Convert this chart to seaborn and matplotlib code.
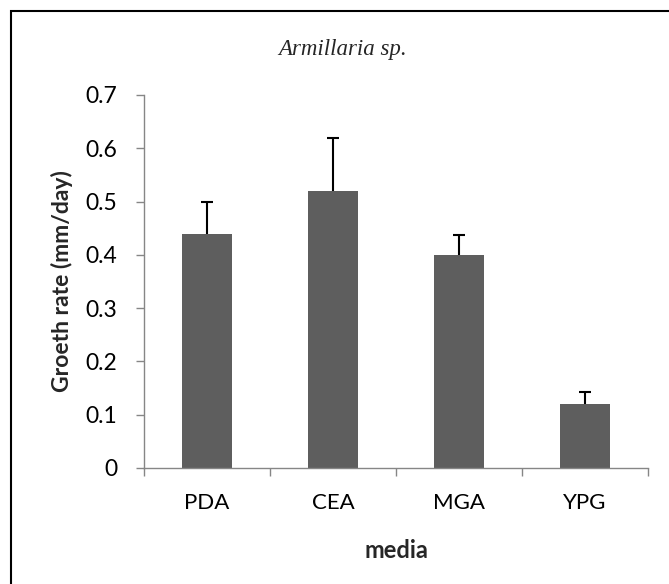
import matplotlib
matplotlib.use("Agg")
import matplotlib.pyplot as plt
from matplotlib.patches import Rectangle
import seaborn as sns
import pandas as pd

# Growth rate of Armillaria sp. on four culture media
media = ["PDA", "CEA", "MGA", "YPG"]
growth_rate = [0.44, 0.52, 0.40, 0.12]
growth_err = [0.06, 0.10, 0.037, 0.023]

y_ticks = [0, 0.1, 0.2, 0.3, 0.4, 0.5, 0.6, 0.7]
y_tick_labels = ["0", "0.1", "0.2", "0.3", "0.4", "0.5", "0.6", "0.7"]

df = pd.DataFrame({"media": media, "rate": growth_rate})

sns.set_theme(style="white")
plt.rcParams["font.family"] = ["Lato", "DejaVu Sans"]

W, H = 669, 584
fig = plt.figure(figsize=(W / 100, H / 100), dpi=100)
fig.patch.set_facecolor("white")

ax = fig.add_axes([144 / W, 1 - 468 / H, (648 - 144) / W, (468 - 95) / H])

bar_color = "#5e5e5e"
axis_color = "#868686"

sns.barplot(data=df, x="media", y="rate", color=bar_color, width=0.4,
            saturation=1, errorbar=None, ax=ax, linewidth=0)

# upper-only error bars
eb = ax.errorbar(range(len(media)), growth_rate,
                 yerr=[[0] * len(media), growth_err],
                 fmt="none", ecolor="black", elinewidth=1.5,
                 capsize=4.3, capthick=1.5, zorder=3)
caplines = eb.lines[1]
if len(caplines) == 2:
    caplines[0].set_visible(False)

ax.set_xlim(-0.5, len(media) - 0.5)
ax.set_ylim(0, 0.7)
ax.set_yticks(y_ticks)
ax.set_yticklabels(y_tick_labels)

for side in ["top", "right"]:
    ax.spines[side].set_visible(False)
for side in ["left", "bottom"]:
    ax.spines[side].set_color(axis_color)
    ax.spines[side].set_linewidth(1.0)

ax.tick_params(axis="y", which="major", direction="out", length=6,
               width=1.0, color=axis_color, labelsize=16.5, pad=13,
               labelcolor="black", left=True)
ax.tick_params(axis="x", which="major", length=0, labelsize=16, pad=18,
               labelcolor="black", bottom=True)
# category-boundary tick marks
ax.set_xticks([i - 0.5 for i in range(len(media) + 1)], minor=True)
ax.tick_params(axis="x", which="minor", direction="out", length=5.5,
               width=1.0, color=axis_color, bottom=True)

ax.set_xlabel("")
ax.set_ylabel("")
ax.text(0.5, -0.22, "media", transform=ax.transAxes, ha="center",
        va="center", fontsize=17, fontweight="bold")
ax.text((62 - 144) / 504, 0.5, "Groeth rate (mm/day)", transform=ax.transAxes,
        ha="center", va="center", rotation=90, fontsize=16.5,
        fontweight="bold")

fig.text(343 / W, 1 - 49 / H, "Armillaria sp.", ha="center", va="center",
         fontsize=16.5, fontstyle="italic", family="Liberation Serif")

# frame around the chart area
fig.patches.append(Rectangle((11 / W, -0.2), 1.5, 1.2 - 11 / H,
                             transform=fig.transFigure, fill=False,
                             edgecolor="black", linewidth=1.5))

fig.savefig("out.png", dpi=100, facecolor="white")
